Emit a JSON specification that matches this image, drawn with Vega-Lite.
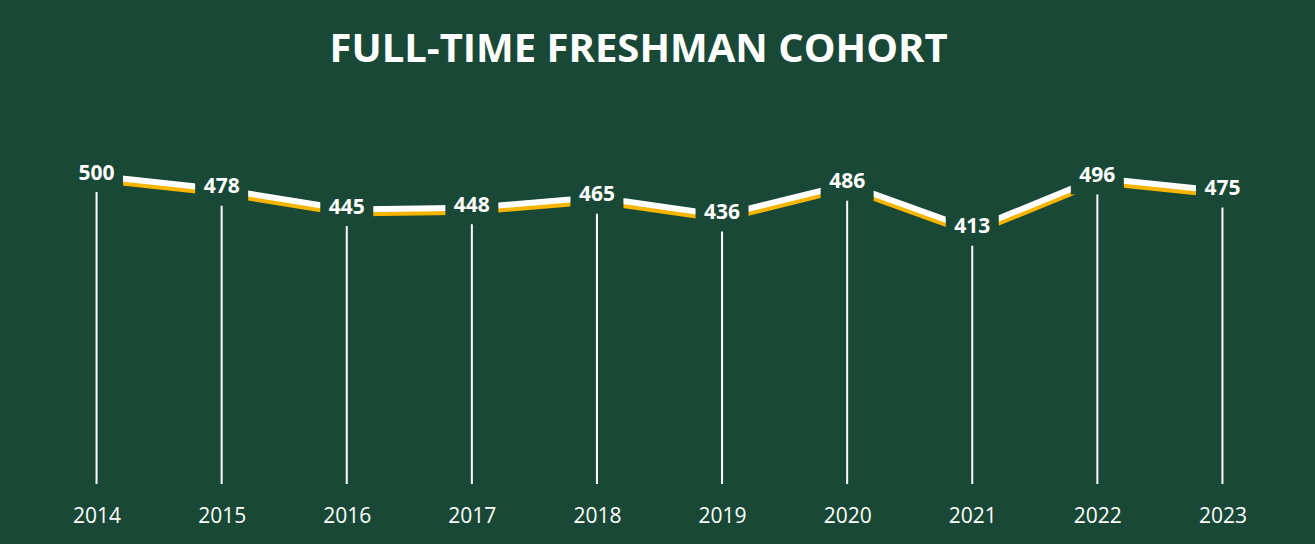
{
  "$schema": "https://vega.github.io/schema/vega-lite/v6.json",
  "width": 1251,
  "height": 370,
  "autosize": {"type": "none"},
  "padding": {"left": 34, "top": 114, "right": 30, "bottom": 60},
  "background": "#194936",
  "title": {
    "text": "FULL-TIME FRESHMAN COHORT",
    "font": "Open Sans",
    "fontSize": 40,
    "fontWeight": "bold",
    "color": "#ffffff",
    "anchor": "middle",
    "baseline": "alphabetic",
    "offset": 12,
    "dx": -21
  },
  "data": {
    "values": [
      {"year": "2014", "value": 500},
      {"year": "2015", "value": 478},
      {"year": "2016", "value": 445},
      {"year": "2017", "value": 448},
      {"year": "2018", "value": 465},
      {"year": "2019", "value": 436},
      {"year": "2020", "value": 486},
      {"year": "2021", "value": 413},
      {"year": "2022", "value": 496},
      {"year": "2023", "value": 475}
    ]
  },
  "encoding": {
    "x": {
      "field": "year",
      "type": "ordinal",
      "scale": {"type": "point", "padding": 0.5},
      "axis": {
        "title": null,
        "domain": false,
        "ticks": false,
        "grid": false,
        "labelAngle": 0,
        "labelColor": "#ffffff",
        "labelFont": "Open Sans",
        "labelFontSize": 21,
        "labelBaseline": "middle",
        "labelPadding": 32
      }
    },
    "y": {
      "field": "value",
      "type": "quantitative",
      "scale": {"domain": [0, 600]},
      "axis": null
    }
  },
  "layer": [
    {
      "mark": {"type": "rule", "color": "#ffffff", "strokeWidth": 2},
      "encoding": {"y2": {"datum": 0}}
    },
    {
      "mark": {"type": "line", "color": "#f7b500", "strokeWidth": 6, "yOffset": 4}
    },
    {
      "mark": {"type": "line", "color": "#ffffff", "strokeWidth": 6}
    },
    {
      "mark": {
        "type": "point",
        "shape": "M -1 -0.72 L 1 -0.72 L 1 0.62 L -1 0.62 Z",
        "size": 2809,
        "filled": true,
        "fill": "#194936",
        "opacity": 1,
        "strokeWidth": 0
      }
    },
    {
      "mark": {
        "type": "text",
        "color": "#ffffff",
        "font": "Open Sans",
        "fontSize": 21,
        "fontWeight": "bold",
        "baseline": "middle",
        "dy": -2
      },
      "encoding": {"text": {"field": "value", "type": "quantitative"}}
    }
  ],
  "config": {"view": {"stroke": null}}
}
